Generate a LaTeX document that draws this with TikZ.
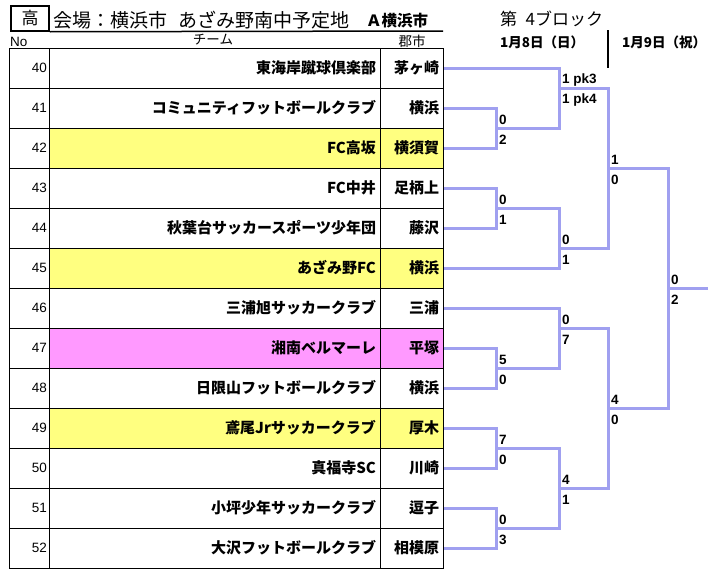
\documentclass[tikz,border=0pt]{standalone}
\usepackage{fontspec}
\setmainfont{Liberation Sans}
\newfontfamily\jp{Noto Sans CJK JP}
\definecolor{brk}{RGB}{160,160,240}
\definecolor{ylw}{RGB}{255,255,128}
\definecolor{pnk}{RGB}{255,153,255}
\begin{document}
\begin{tikzpicture}[x=1pt,y=-1pt,
  cell/.style={draw=black,line width=1pt,minimum height=40pt,inner ysep=0pt},
  numcell/.style={cell,text width=36pt,inner xsep=2pt,align=right,font=\fontsize{13.5}{14}\selectfont},
  namecell/.style={cell,text width=323pt,inner xsep=4pt,align=right,font=\jp\bfseries\fontsize{15}{16}\selectfont},
  citycell/.style={cell,text width=55pt,inner xsep=4pt,align=right,font=\jp\bfseries\fontsize{15}{16}\selectfont},
  bracket/.style={draw=brk,line width=3pt,line join=miter},
  score/.style={anchor=west,inner sep=0pt,font=\bfseries\fontsize{13.5}{14}\selectfont},
  hdr/.style={inner sep=0pt,font=\jp\fontsize{13.5}{14}\selectfont},
]
\useasboundingbox[fill=white] (0,0) rectangle (718,573);

% header
\node[draw,line width=1.5pt,minimum width=38pt,minimum height=25pt,inner sep=0pt,font=\jp\fontsize{17}{18}\selectfont] (hi) at (30,18.5) {高};
\coordinate (ulend) at (443,31);
\draw[line width=1.5pt] (hi.south east) -- (ulend);
\node[anchor=base west,inner sep=0pt,font=\jp\fontsize{19}{20}\selectfont] (title1) at (53,27) {会場：横浜市};
\node[anchor=base west,inner sep=0pt,font=\jp\fontsize{19}{20}\selectfont] (title2) at (178,27) {あざみ野南中予定地};
\node[anchor=base west,inner sep=0pt,font=\jp\bfseries\fontsize{15.5}{16}\selectfont] (area) at (366,26) {Ａ横浜市};
\node[anchor=base west,inner sep=0pt,font=\jp\fontsize{17}{18}\selectfont] (block) at (500,25) {第\hspace{0.5em}4ブロック};
\node[anchor=base west,inner sep=0pt,font=\jp\bfseries\fontsize{13.5}{14}\selectfont] (day1) at (500,47) {1月8日（日）};
\node[anchor=base west,inner sep=0pt,font=\jp\bfseries\fontsize{13.5}{14}\selectfont] (day2) at (622,47) {1月9日（祝）};
\coordinate (vtop) at (608,30);
\coordinate (vbot) at (608,68);
\draw[line width=2pt] (vtop) -- (vbot);
\node[anchor=west,inner sep=0pt,font=\fontsize{13.5}{14}\selectfont] (nohdr) at (10,42) {No};
\node[hdr] (teamhdr) at (213,40) {チーム};
\node[hdr] (cityhdr) at (412,41) {郡市};

% table
\foreach \n/\nm/\ct/\fc [count=\i from 0] in {
  40/東海岸蹴球倶楽部/茅ヶ崎/white,
  41/コミュニティフットボールクラブ/横浜/white,
  42/FC高坂/横須賀/ylw,
  43/FC中井/足柄上/white,
  44/秋葉台サッカースポーツ少年団/藤沢/white,
  45/あざみ野FC/横浜/ylw,
  46/三浦旭サッカークラブ/三浦/white,
  47/湘南ベルマーレ/平塚/pnk,
  48/日限山フットボールクラブ/横浜/white,
  49/鳶尾Jrサッカークラブ/厚木/ylw,
  50/真福寺SC/川崎/white,
  51/小坪少年サッカークラブ/逗子/white,
  52/大沢フットボールクラブ/相模原/white}{
  \node[numcell] (n\n) at (29,{68+40*\i}) {\n};
  \node[namecell,fill=\fc] (nm\n) at (214.5,{68+40*\i}) {\nm};
  \node[citycell,fill=\fc] (t\n) at (411.5,{68+40*\i}) {\ct};
}

% junctions
\coordinate (j41) at (496,128);
\coordinate (j40) at (559,88);
\coordinate (j43) at (496,208);
\coordinate (j45) at (559,248);
\coordinate (jA) at (608,168);
\coordinate (j47) at (496,368);
\coordinate (j46) at (559,328);
\coordinate (j49) at (496,448);
\coordinate (j51) at (496,528);
\coordinate (j50) at (559,488);
\coordinate (jB) at (608,408);
\coordinate (jF) at (668,288);
\coordinate (fin) at (708,288);

\draw[bracket] (t41.east) -| (j41) |- (t42.east);
\draw[bracket] (j41) -| (j40) |- (t40.east);
\draw[bracket] (t43.east) -| (j43) |- (t44.east);
\draw[bracket] (j43) -| (j45) |- (t45.east);
\draw[bracket] (j40) -| (jA) |- (j45);
\draw[bracket] (t47.east) -| (j47) |- (t48.east);
\draw[bracket] (t46.east) -| (j46) |- (j47);
\draw[bracket] (t49.east) -| (j49) |- (t50.east);
\draw[bracket] (t51.east) -| (j51) |- (t52.east);
\draw[bracket] (j49) -| (j50) |- (j51);
\draw[bracket] (j46) -| (jB) |- (j50);
\draw[bracket] (jA) -| (jF) |- (jB);
\draw[bracket] (jF) -- (fin);

% scores
\foreach \j/\a/\b in {j41/0/2, j40/1 pk3/1 pk4, jA/1/0, j43/0/1, j45/0/1, jF/0/2,
  j46/0/7, j47/5/0, jB/4/0, j49/7/0, j50/4/1, j51/0/3}{
  \path (\j) ++(3,-8) node[score] (\j a) {\a};
  \path (\j) ++(3,12) node[score] (\j b) {\b};
}
\end{tikzpicture}
\end{document}
